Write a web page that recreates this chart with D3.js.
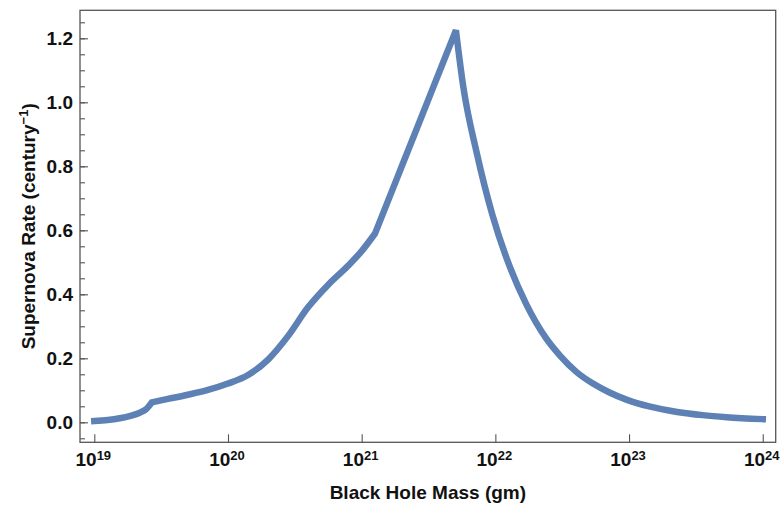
<!DOCTYPE html>
<html>
<head>
<meta charset="utf-8">
<script src="https://cdn.jsdelivr.net/npm/d3@7"></script>
<style>
  html, body { margin: 0; padding: 0; background: #fff; }
  svg { display: block; font-family: "Liberation Sans", Arial, sans-serif; font-weight: bold; }
</style>
</head>
<body>
<svg id="chart" width="781" height="505"></svg>
<script>
// Black hole mass, as log10(mass in grams)
const logMass = [19.0, 19.1, 19.19, 19.27, 19.34, 19.39, 19.43,
  19.55, 19.7, 19.85, 20.0, 20.15, 20.3, 20.45, 20.6, 20.75, 20.9, 21.0, 21.10,
  21.2, 21.3, 21.4, 21.5, 21.6, 21.705,
  21.76, 21.86, 21.98, 22.11, 22.23, 22.38, 22.48, 22.61, 22.73, 22.85,
  22.98, 23.15, 23.36, 23.55, 23.73, 24.0];
// Supernova rate (per century)
const rate = [0.004, 0.007, 0.0125, 0.02, 0.03, 0.042, 0.0625,
  0.073, 0.086, 0.101, 0.121, 0.148, 0.196, 0.27, 0.36, 0.43, 0.49, 0.535, 0.59,
  0.695, 0.80, 0.905, 1.01, 1.115, 1.225,
  1.049, 0.843, 0.645, 0.484, 0.370, 0.262, 0.210, 0.156, 0.121, 0.094,
  0.071, 0.0495, 0.0324, 0.0224, 0.016, 0.0099];
// Points where the curve has a corner (indices into the arrays above)
const cornerIdx = [6, 18, 24];

const xTickExps = [19, 20, 21, 22, 23, 24];
const yTicks = [0.0, 0.2, 0.4, 0.6, 0.8, 1.0, 1.2];
const yMinorTicks = d3.range(-0.05, 1.2501, 0.05);

const plot = { left: 80, top: 10.3, right: 775.7, bottom: 442.3 };

const svg = d3.select("#chart");

const x = d3.scaleLog()
  .domain([Math.pow(10, 18.893), Math.pow(10, 24.097)])
  .range([plot.left, plot.right]);
const y = d3.scaleLinear()
  .domain([-0.0625, 1.2875])
  .range([plot.bottom, plot.top]);

const frameColor = "#555";

// frame
svg.append("rect")
  .attr("x", plot.left).attr("y", plot.top)
  .attr("width", plot.right - plot.left).attr("height", plot.bottom - plot.top)
  .attr("fill", "none").attr("stroke", frameColor).attr("stroke-width", 1.3);

// left axis ticks (inward)
const yAxisMinor = d3.axisRight(y).tickValues(yMinorTicks).tickSize(5).tickFormat("");
svg.append("g").attr("transform", `translate(${plot.left},0)`).call(yAxisMinor)
  .call(g => g.select(".domain").remove())
  .call(g => g.selectAll("line").attr("stroke", frameColor).attr("stroke-width", 1.1));

const yAxis = d3.axisRight(y).tickValues(yTicks).tickSize(8).tickFormat("");
svg.append("g").attr("transform", `translate(${plot.left},0)`).call(yAxis)
  .call(g => g.select(".domain").remove())
  .call(g => g.selectAll("line").attr("stroke", frameColor).attr("stroke-width", 1.1));

// y tick labels
svg.append("g").selectAll("text").data(yTicks).join("text")
  .attr("x", plot.left - 7)
  .attr("y", d => y(d) + 7)
  .attr("text-anchor", "end")
  .attr("font-size", 19)
  .attr("fill", "#111")
  .text(d => d3.format(".1f")(d));

// bottom axis ticks (inward)
const xAxis = d3.axisTop(x).tickValues(xTickExps.map(e => Math.pow(10, e))).tickSize(8).tickFormat("");
svg.append("g").attr("transform", `translate(0,${plot.bottom})`).call(xAxis)
  .call(g => g.select(".domain").remove())
  .call(g => g.selectAll("line").attr("stroke", frameColor).attr("stroke-width", 1.1));

// x tick labels: 10 with superscript exponent
const xl = svg.append("g").selectAll("text").data(xTickExps).join("text")
  .attr("x", d => x(Math.pow(10, d)) - 1)
  .attr("y", 466)
  .attr("text-anchor", "middle")
  .attr("fill", "#111");
xl.append("tspan").attr("font-size", 19).text("10");
xl.append("tspan").attr("font-size", 13).attr("dy", -6).text(d => d);

// axis titles
svg.append("text")
  .attr("x", (plot.left + plot.right) / 2)
  .attr("y", 499)
  .attr("text-anchor", "middle")
  .attr("font-size", 19)
  .attr("fill", "#111")
  .text("Black Hole Mass (gm)");

const yt = svg.append("text")
  .attr("transform", `translate(35,${(plot.top + plot.bottom) / 2}) rotate(-90)`)
  .attr("text-anchor", "middle")
  .attr("font-size", 19)
  .attr("fill", "#111");
yt.append("tspan").text("Supernova Rate (century");
yt.append("tspan").attr("font-size", 13).attr("dy", -7).text("\u22121");
yt.append("tspan").attr("dy", 7).text(")");

// curve: smooth pieces joined at the corner points
const pts = logMass.map((m, i) => ({ m: Math.pow(10, m), r: rate[i] }));
const bounds = [0, ...cornerIdx, pts.length - 1];
const line = d3.line().x(d => x(d.m)).y(d => y(d.r)).curve(d3.curveMonotoneX);
let dPath = "";
for (let k = 0; k < bounds.length - 1; k++) {
  const seg = line(pts.slice(bounds[k], bounds[k + 1] + 1));
  dPath += k === 0 ? seg : "L" + seg.slice(1);
}
svg.append("path")
  .attr("d", dPath)
  .attr("fill", "none")
  .attr("stroke", "#5E81B5")
  .attr("stroke-width", 6.5)
  .attr("stroke-linejoin", "miter")
  .attr("stroke-miterlimit", 4)
  .attr("stroke-linecap", "square");
</script>
</body>
</html>
